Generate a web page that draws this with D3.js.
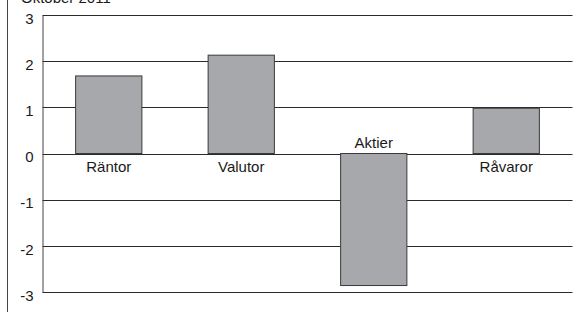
<!DOCTYPE html>
<html>
<head>
<meta charset="utf-8">
<script src="https://cdn.jsdelivr.net/npm/d3@7"></script>
<style>
  body { margin: 0; background: #fff; }
  text { font-family: "Liberation Sans", Arial, sans-serif; fill: #1a1a1a; }
</style>
</head>
<body>
<div id="chart"></div>
<script>
// data
let categories = ["Räntor", "Valutor", "Aktier", "Råvaror"];
let values = [1.68, 2.13, -2.86, 0.98];
let yTicks = [3, 2, 1, 0, -1, -2, -3];
let title = "Oktober 2011";

var W = 582, H = 312;
var margin = {top: 15, right: 9.5, bottom: 20, left: 42.5};
var width = W - margin.left - margin.right,
    height = H - margin.top - margin.bottom;

var root = d3.select("#chart").append("svg")
    .attr("width", W)
    .attr("height", H);

// frame line on the far left
root.append("line")
    .attr("x1", 7.5).attr("x2", 7.5)
    .attr("y1", 0).attr("y2", H)
    .attr("stroke", "#444")
    .attr("stroke-width", 1);

// title, sits mostly above the window (as in the original crop)
root.append("text")
    .attr("x", 21)
    .attr("y", 3)
    .style("font-size", "15px")
    .text(title);

var svg = root.append("g")
    .attr("transform", "translate(" + margin.left + "," + margin.top + ")");

var x = d3.scaleBand()
    .domain(categories)
    .range([0, width])
    .paddingInner(0.5)
    .paddingOuter(0.25);

var y = d3.scaleLinear()
    .domain([-3, 3])
    .range([height, 0]);

// horizontal grid lines
svg.append("g")
  .selectAll("line")
  .data(yTicks)
  .enter()
  .append("line")
    .attr("x1", 0)
    .attr("x2", width)
    .attr("y1", d => Math.round(y(d)) + 0.5)
    .attr("y2", d => Math.round(y(d)) + 0.5)
    .attr("stroke", "#2a2a2a")
    .attr("stroke-width", 1.1);

// left axis (plain hyphen for minus, like the original)
var yAxis = svg.append("g")
    .call(d3.axisLeft(y).tickValues(yTicks).tickFormat(d => String(d)).tickSize(0));
yAxis.select(".domain").attr("stroke", "#444").attr("stroke-width", 1);
yAxis.selectAll("text")
    .style("font-size", "15px")
    .attr("dy", "0.55em")
    .attr("x", -9);

// bars
svg.append("g")
  .selectAll("rect")
  .data(values)
  .enter()
  .append("rect")
    .attr("x", (d, i) => x(categories[i]))
    .attr("width", x.bandwidth())
    .attr("y", d => y(Math.max(0, d)))
    .attr("height", d => Math.abs(y(d) - y(0)))
    .attr("fill", "#a7a8ab")
    .attr("stroke", "#3a3a3a")
    .attr("stroke-width", 1);

// category labels: below the zero line for positives, above for negatives
svg.append("g")
  .selectAll("text")
  .data(values)
  .enter()
  .append("text")
    .attr("x", (d, i) => x(categories[i]) + x.bandwidth() / 2)
    .attr("y", d => d >= 0 ? y(0) + 18 : y(0) - 6)
    .attr("text-anchor", "middle")
    .style("font-size", "15px")
    .text((d, i) => categories[i]);
</script>
</body>
</html>
